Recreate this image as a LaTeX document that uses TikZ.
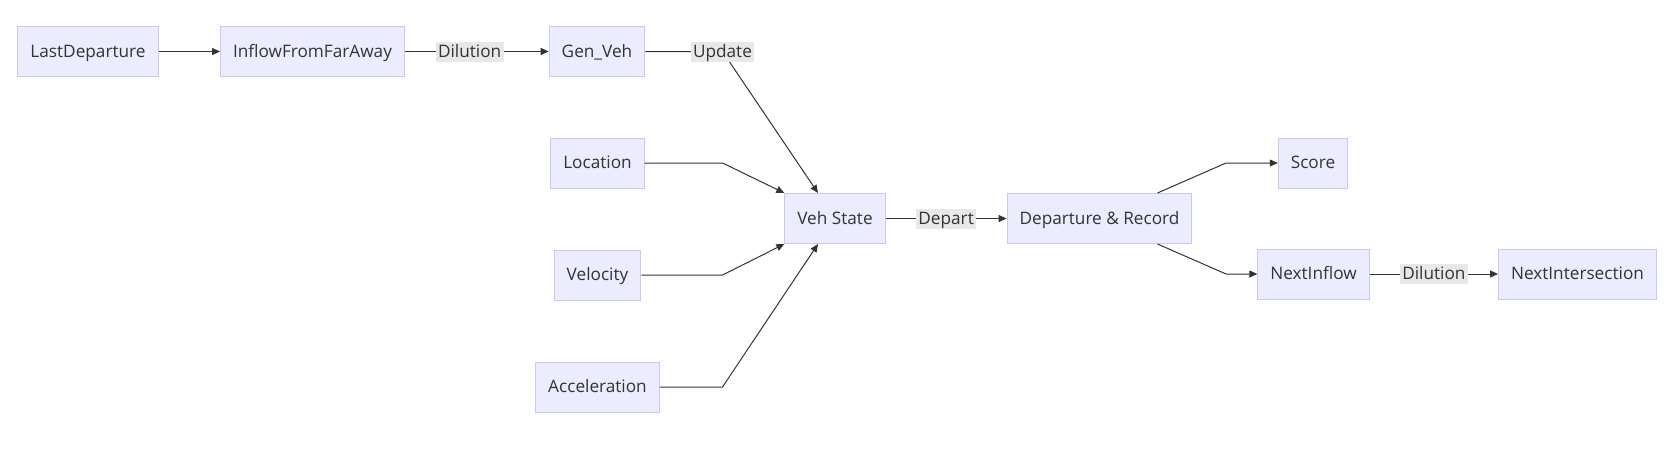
\documentclass[tikz,border=0pt]{standalone}
\usepackage{fontspec}
\setmainfont{Open Sans}
\usepackage{xcolor}
\definecolor{NodeFill}{RGB}{236,236,255}
\definecolor{NodeBorder}{RGB}{200,200,245}
\definecolor{LineGray}{RGB}{51,51,51}
\definecolor{LabelFill}{RGB}{232,232,232}
\definecolor{TextGray}{RGB}{51,51,51}
\usetikzlibrary{arrows.meta, positioning}
\tikzset{
  % Flowchart box
  vbox/.style={
    rectangle, draw=NodeBorder, fill=NodeFill, line width=1pt,
    minimum height=50pt, inner xsep=12.5pt,
    text height=13pt, text depth=2pt,
    font=\fontsize{17.2}{19}\selectfont, text=TextGray
  },
  % Arrows and plain lines
  arr/.style={-{Triangle[length=8pt,width=7pt]}, line width=1pt, LineGray},
  % Edge label
  elabel/.style={fill=LabelFill, inner sep=2.5pt, text=TextGray,
    text height=13pt, text depth=2pt,
    font=\fontsize{17.2}{19}\selectfont},
}

\begin{document}
\begin{tikzpicture}[x=1pt, y=-1pt]
  \useasboundingbox (0,0) rectangle (1676,458);

  %% ---- GENERATION ROW ----
  \node[vbox] (last)   at (88,51.5)    {LastDeparture};
  \node[vbox] (inflow) at (312.5,51.5) {InflowFromFarAway};
  \node[vbox] (gen)    at (597,51.5)   {Gen\_Veh};

  %% ---- STATE INPUTS ----
  \node[vbox] (loc) at (597.5,163) {Location};
  \node[vbox, below=61pt of loc] (vel) {Velocity};
  \node[vbox, below=61pt of vel] (acc) {Acceleration};

  %% ---- STATE / DEPARTURE ----
  \node[vbox] (vstate) at (835,218.5)    {Veh State};
  \node[vbox] (dep)    at (1099.5,218.5) {Departure \& Record};
  \node[vbox] (score)  at (1313,163)     {Score};
  \node[vbox] (next)   at (1313.5,274)   {NextInflow};
  \node[vbox] (nextint) at (1577.5,274)  {NextIntersection};

  %% Knees of the bent connectors
  \coordinate (kneeL) at (722.5,0);
  \coordinate (kneeR) at (1226,0);

  %% Arrows: generation row
  \draw[arr] (last) -- (inflow);
  \draw[arr] (inflow) -- node[elabel, pos=0.45]{Dilution} (gen);
  \draw[arr] (gen.east) -- (gen.east -| kneeL) node[elabel]{Update}
    -- ([xshift=-17pt]vstate.north);

  %% Inputs -> Veh State
  \draw[arr] (loc.east) -- (loc.east -| kneeL) -- (vstate.north west);
  \draw[arr] (vel.east) -- (vel.east -| kneeL) -- (vstate.south west);
  \draw[arr] (acc.east) -- (acc.east -| kneeL) -- ([xshift=-17pt]vstate.south);

  %% Veh State -> Departure -> outputs
  \draw[arr] (vstate) -- node[elabel]{Depart} (dep);
  \draw[arr] ([xshift=58pt]dep.north) -- (score.west -| kneeR) -- (score.west);
  \draw[arr] ([xshift=58pt]dep.south) -- (next.west -| kneeR) -- (next.west);
  \draw[arr] (next) -- node[elabel]{Dilution} (nextint);

\end{tikzpicture}
\end{document}
